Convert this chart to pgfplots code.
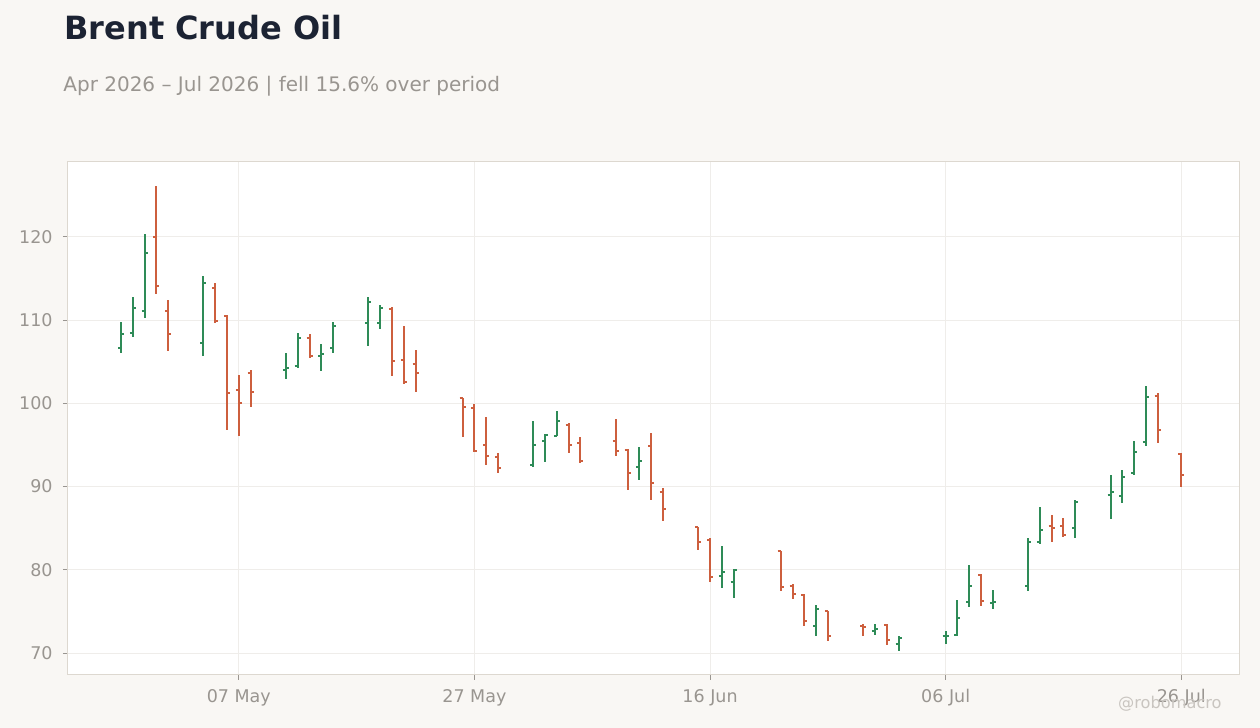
\documentclass[border=0pt]{standalone}
\usepackage{fontspec}
\setmainfont{DejaVu Sans}
\usepackage{pgfplots}
\usepackage{pgfplotstable}
\usepgfplotslibrary{dateplot}
\pgfplotsset{compat=1.18}

\definecolor{bgc}{HTML}{F9F7F4}
\definecolor{upc}{HTML}{2E8B57}
\definecolor{dnc}{HTML}{CD5F3E}
\definecolor{titlec}{HTML}{1C2333}
\definecolor{textc}{HTML}{999590}
\definecolor{framec}{HTML}{DDD8D0}
\definecolor{gridc}{HTML}{EFEDEA}
\definecolor{markc}{HTML}{C9C5C0}

% open tick to the left, close tick to the right
\pgfdeclareplotmark{openmark}{%
  \pgfpathmoveto{\pgfqpoint{-\pgfplotmarksize}{0pt}}%
  \pgfpathlineto{\pgfqpoint{0pt}{0pt}}%
  \pgfusepathqstroke}
\pgfdeclareplotmark{closemark}{%
  \pgfpathmoveto{\pgfqpoint{0pt}{0pt}}%
  \pgfpathlineto{\pgfqpoint{\pgfplotmarksize}{0pt}}%
  \pgfusepathqstroke}

% date open high low close
\pgfplotstableread{
date o h l c
2026-04-27 106.6 109.8 106.0 108.3
2026-04-28 108.4 112.8 108.0 111.4
2026-04-29 111.1 120.4 110.3 118.1
2026-05-04 107.2 115.3 105.7 114.5
2026-05-11 104.0 106.1 102.9 104.3
2026-05-12 104.5 108.5 104.2 107.9
2026-05-14 105.7 107.1 103.9 105.9
2026-05-15 106.7 109.8 106.1 109.3
2026-05-18 109.7 112.8 106.9 112.2
2026-05-19 109.6 111.8 108.9 111.4
2026-06-01 92.6 97.9 92.4 95.0
2026-06-02 95.5 96.3 92.9 96.2
2026-06-03 96.1 99.1 96.1 97.9
2026-06-10 92.3 94.8 90.8 93.1
2026-06-17 79.3 82.9 77.8 79.7
2026-06-18 78.5 80.1 76.6 80.0
2026-06-25 73.2 75.8 72.1 75.3
2026-06-30 72.7 73.5 72.2 72.9
2026-07-02 71.1 72.0 70.2 71.8
2026-07-06 72.0 72.6 71.1 72.1
2026-07-07 72.2 76.4 72.1 74.2
2026-07-08 76.1 80.6 75.5 78.1
2026-07-10 76.0 77.6 75.3 76.1
2026-07-13 78.1 83.8 77.4 83.4
2026-07-14 83.3 87.6 83.1 84.8
2026-07-17 85.0 88.4 83.8 88.2
2026-07-20 89.0 91.4 86.1 89.3
2026-07-21 88.9 92.0 88.0 91.1
2026-07-22 91.6 95.5 91.4 94.1
2026-07-23 95.3 102.1 94.9 100.8
}\upbars

\pgfplotstableread{
date o h l c
2026-04-30 120.0 126.1 113.1 114.1
2026-05-01 111.1 112.4 106.3 108.3
2026-05-05 113.9 114.5 109.7 109.9
2026-05-06 110.5 110.6 96.8 101.3
2026-05-07 101.6 103.4 96.1 100.1
2026-05-08 103.7 104.0 99.6 101.4
2026-05-13 107.8 108.3 105.4 105.7
2026-05-20 111.3 111.6 103.3 105.1
2026-05-21 105.2 109.3 102.3 102.6
2026-05-22 104.7 106.4 101.4 103.6
2026-05-26 100.6 100.7 96.0 99.6
2026-05-27 99.5 99.9 94.2 94.3
2026-05-28 95.0 98.3 92.6 93.7
2026-05-29 93.5 94.0 91.6 92.2
2026-06-04 97.4 97.6 94.0 95.0
2026-06-05 95.2 96.0 92.8 93.1
2026-06-08 95.5 98.1 93.7 94.3
2026-06-09 94.4 94.5 89.6 91.6
2026-06-11 94.9 96.4 88.4 90.4
2026-06-12 89.3 89.8 85.9 87.3
2026-06-15 85.1 85.2 82.4 83.3
2026-06-16 83.6 83.8 78.5 79.1
2026-06-22 82.3 82.3 77.4 77.9
2026-06-23 78.1 78.3 76.5 77.1
2026-06-24 77.0 77.1 73.2 73.8
2026-06-26 75.0 75.1 71.5 72.1
2026-06-29 73.2 73.5 72.0 73.1
2026-07-01 73.4 73.5 71.0 71.6
2026-07-09 79.4 79.5 75.7 76.3
2026-07-15 85.3 86.6 83.4 85.0
2026-07-16 85.3 86.2 83.9 84.2
2026-07-24 100.9 101.2 95.2 96.8
2026-07-26 93.9 94.0 89.9 91.4
}\downbars

\begin{document}
\begin{tikzpicture}
\fill[bgc] (0,0) rectangle (630pt,364pt);

\node[anchor=base west, inner sep=0pt, text=titlec,
      font=\fontsize{16}{19}\selectfont\bfseries] at (32pt,344pt) {Brent Crude Oil};
\node[anchor=base west, inner sep=0pt, text=textc,
      font=\fontsize{10}{12}\selectfont] at (31.5pt,318pt)
      {Apr 2026 – Jul 2026 | fell 15.6\% over period};

\begin{axis}[
    at={(34pt,26.5pt)}, anchor=south west,
    scale only axis,
    width=585.5pt, height=256.5pt,
    date coordinates in=x,
    xmin=2026-04-22 12:00, xmax=2026-07-30 21:36,
    ymin=67.36, ymax=129.0,
    xtick={2026-05-07,2026-05-27,2026-06-16,2026-07-06,2026-07-26},
    xticklabels={07 May,27 May,16 Jun,06 Jul,26 Jul},
    ytick={70,80,...,120},
    /pgf/number format/assume math mode=true,
    axis background/.style={fill=white},
    axis line style={framec, line width=0.5pt},
    grid=major,
    major grid style={gridc, line width=0.5pt},
    tick align=outside,
    major tick length=2.5pt,
    tick style={textc, line width=0.5pt},
    xtick pos=bottom, ytick pos=left,
    ticklabel style={text=textc, font=\fontsize{8.75}{10}\selectfont, inner sep=0pt},
    xticklabel style={anchor=north, yshift=-4.5pt},
    yticklabel style={anchor=east, xshift=-5pt},
    clip=false,
  ]
  % high-low lines
  \addplot[draw=none, mark=none,
      error bars/.cd, y dir=both, y explicit, error mark=none,
      error bar style={draw=upc, line width=1pt}]
    table[x=date, y expr=(\thisrow{h}+\thisrow{l})/2,
          y error expr=(\thisrow{h}-\thisrow{l})/2] {\upbars};
  \addplot[draw=none, mark=none,
      error bars/.cd, y dir=both, y explicit, error mark=none,
      error bar style={draw=dnc, line width=1pt}]
    table[x=date, y expr=(\thisrow{h}+\thisrow{l})/2,
          y error expr=(\thisrow{h}-\thisrow{l})/2] {\downbars};
  % open and close ticks
  \addplot[only marks, mark=openmark, mark size=1.5pt, upc, line width=1pt]
    table[x=date, y=o] {\upbars};
  \addplot[only marks, mark=closemark, mark size=1.5pt, upc, line width=1pt]
    table[x=date, y=c] {\upbars};
  \addplot[only marks, mark=openmark, mark size=1.5pt, dnc, line width=1pt]
    table[x=date, y=o] {\downbars};
  \addplot[only marks, mark=closemark, mark size=1.5pt, dnc, line width=1pt]
    table[x=date, y=c] {\downbars};
\end{axis}

\node[anchor=base east, inner sep=0pt, text=markc,
      font=\fontsize{8.1}{10}\selectfont] at (611pt,9.5pt) {@robomacro};
\end{tikzpicture}
\end{document}
